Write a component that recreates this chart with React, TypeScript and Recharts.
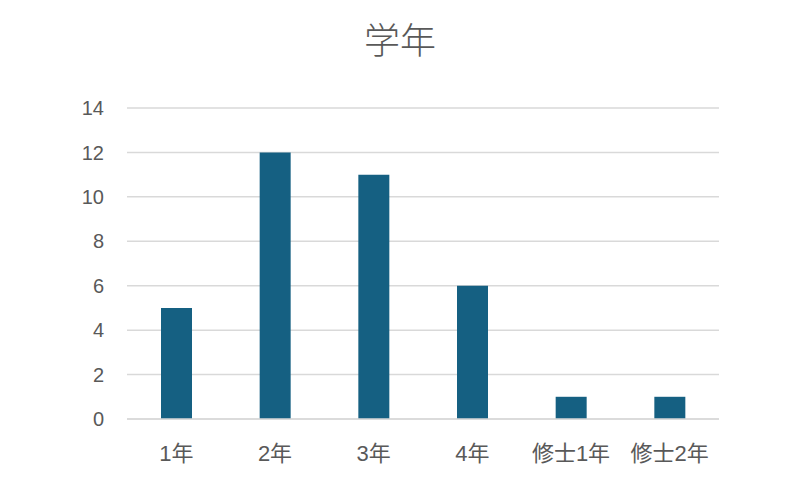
import { BarChart, Bar, XAxis, YAxis, CartesianGrid } from 'recharts'

const grades = ['1年', '2年', '3年', '4年', '修士1年', '修士2年']
const counts = [5, 12, 11, 6, 1, 1]
const yTicks = [0, 2, 4, 6, 8, 10, 12, 14]

const data = grades.map((grade, i) => ({ grade, count: counts[i] }))

const font = '"Liberation Sans", "Noto Sans CJK JP", sans-serif'

export default function App() {
  return (
    <div style={{ position: 'absolute', left: 0, top: 0, width: 800, height: 500, background: '#fff', fontFamily: font }}>
      {/* Title */}
      <div
        style={{
          position: 'absolute',
          top: 12,
          width: 800,
          textAlign: 'center',
          fontSize: 36,
          fontWeight: 300,
          fontFamily: '"Noto Sans CJK JP", sans-serif',
          color: '#595959',
        }}
      >
        学年
      </div>
      <BarChart
        width={800}
        height={500}
        data={data}
        margin={{ top: 108, right: 81, bottom: 21, left: 0 }}
      >
        <CartesianGrid vertical={false} stroke="#d9d9d9" strokeWidth={1.5} />
        <XAxis
          dataKey="grade"
          height={60}
          tickLine={false}
          axisLine={{ stroke: '#d9d9d9', strokeWidth: 1.5 }}
          tick={{ fill: '#595959', fontSize: 22, fontFamily: font }}
          tickMargin={20}
          interval={0}
        />
        <YAxis
          width={127}
          domain={[0, 14]}
          ticks={yTicks}
          tickLine={false}
          axisLine={false}
          tickSize={0}
          tickMargin={23}
          tick={{ fill: '#595959', fontSize: 20, fontFamily: font }}
        />
        <Bar dataKey="count" fill="#156082" barSize={31} isAnimationActive={false} />
      </BarChart>
    </div>
  )
}
